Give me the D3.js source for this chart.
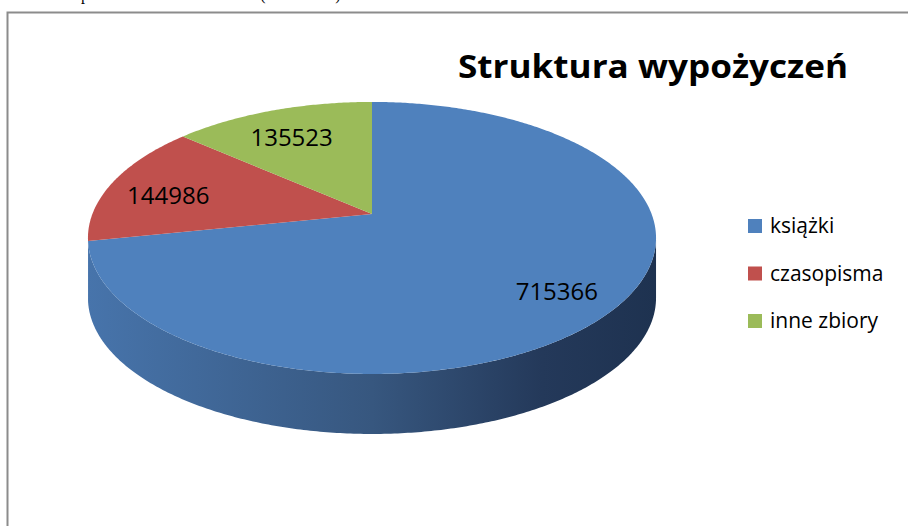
<!DOCTYPE html>
<html>
<head>
<meta charset="utf-8">
<script src="https://cdn.jsdelivr.net/npm/d3@7/dist/d3.min.js"></script>
<style>
  html, body { margin: 0; padding: 0; background: #fff; }
  svg { display: block; }
</style>
</head>
<body>
<svg id="chart" width="908" height="526"></svg>
<script>
// ---- data ----
const categories = ["książki", "czasopisma", "inne zbiory"];
const values = [715366, 144986, 135523];
const colors = ["#4f81bd", "#c0504d", "#9bbb59"];
const sideColors = [["#4774ab", "#37577f", "#24395a", "#1e3250"],
                    ["#a8433f", "#8a3734", "#6a2927", "#5a2321"],
                    ["#88a64c", "#6f883e", "#566a30", "#4a5b29"]];
const title = "Struktura wypożyczeń";

const svg = d3.select("#chart");

// frame
svg.append("rect").attr("x", 7.5).attr("y", 12.5).attr("width", 1000).attr("height", 1000)
  .attr("fill", "none").attr("stroke", "#8c8c8c").attr("stroke-width", 2);

// descender fragments of the line of text above the frame (cut off in the reference too)
[["p", 85], ["(", 263], [")", 338]].forEach(([ch, x]) => {
  svg.append("text").attr("x", x).attr("y", -0.5).attr("text-anchor", "middle")
    .attr("font-family", "Liberation Serif").attr("font-size", 16).attr("fill", "#000").text(ch);
});

// perspective projection of the pie disc
const cx = 372, cy = 214, A = 279.6, B = 131.8, k = 0.176, H = 60;
function proj(angle, r, dy = 0) {
  const u = r * Math.sin(angle), v = -r * Math.cos(angle);
  const s = 1 / (1 - k * v);
  return [cx + A * u * s, cy + B * v * s + dy];
}
function arcPts(a0, a1, r, dy) {
  const n = Math.max(2, Math.ceil(Math.abs(a1 - a0) / 0.01));
  return d3.range(n + 1).map(i => proj(a0 + (a1 - a0) * i / n, r, dy));
}

const pie = d3.pie().sort(null).value(d => d)(values);
const line = d3.line();

// gradients for sides
const defs = svg.append("defs");
sideColors.forEach((stops, i) => {
  const g = defs.append("linearGradient").attr("id", "side" + i)
    .attr("gradientUnits", "userSpaceOnUse")
    .attr("x1", cx - A / Math.sqrt(1 - k * k)).attr("x2", cx + A / Math.sqrt(1 - k * k))
    .attr("y1", 0).attr("y2", 0);
  [0, 0.5, 0.8, 1].forEach((o, j) => g.append("stop").attr("offset", o).attr("stop-color", stops[j]));
});

// sides (front visible arc only)
const thR = Math.acos(-k), thL = 2 * Math.PI - thR;
pie.forEach((d, i) => {
  const a0 = Math.max(d.startAngle, thR), a1 = Math.min(d.endAngle, thL);
  if (a1 - a0 < 0.035) return;
  const top = arcPts(a0, a1, 1, 0);
  const bot = arcPts(a1, a0, 1, H);
  svg.append("path").attr("d", line(top.concat(bot)) + "Z")
    .attr("fill", `url(#side${i})`);
});

// top surfaces
pie.forEach((d, i) => {
  const pts = [proj(0, 0)].concat(arcPts(d.startAngle, d.endAngle, 1, 0));
  svg.append("path").attr("d", line(pts) + "Z").attr("fill", colors[i]);
});

// data labels
pie.forEach((d, i) => {
  const [x, y] = proj((d.startAngle + d.endAngle) / 2, 0.78);
  svg.append("text").attr("x", x).attr("y", y).attr("dy", "0.62em")
    .attr("text-anchor", "middle").attr("font-family", "Open Sans").attr("font-size", 24)
    .attr("fill", "#000").text(d.data);
});

// title
svg.append("text").attr("x", 458).attr("y", 78)
  .attr("font-family", "Open Sans").attr("font-weight", "bold").attr("font-size", 32)
  .attr("textLength", 390).attr("lengthAdjust", "spacingAndGlyphs")
  .attr("fill", "#000").text(title);

// legend
const lg = svg.append("g");
categories.forEach((c, i) => {
  const y0 = 219 + i * 47.5;
  lg.append("rect").attr("x", 748).attr("y", y0).attr("width", 14).attr("height", 14).attr("fill", colors[i]);
  lg.append("text").attr("x", 770).attr("y", y0 + 14)
    .attr("font-family", "Open Sans").attr("font-size", 21).attr("fill", "#000").text(c);
});
</script>
</body>
</html>
